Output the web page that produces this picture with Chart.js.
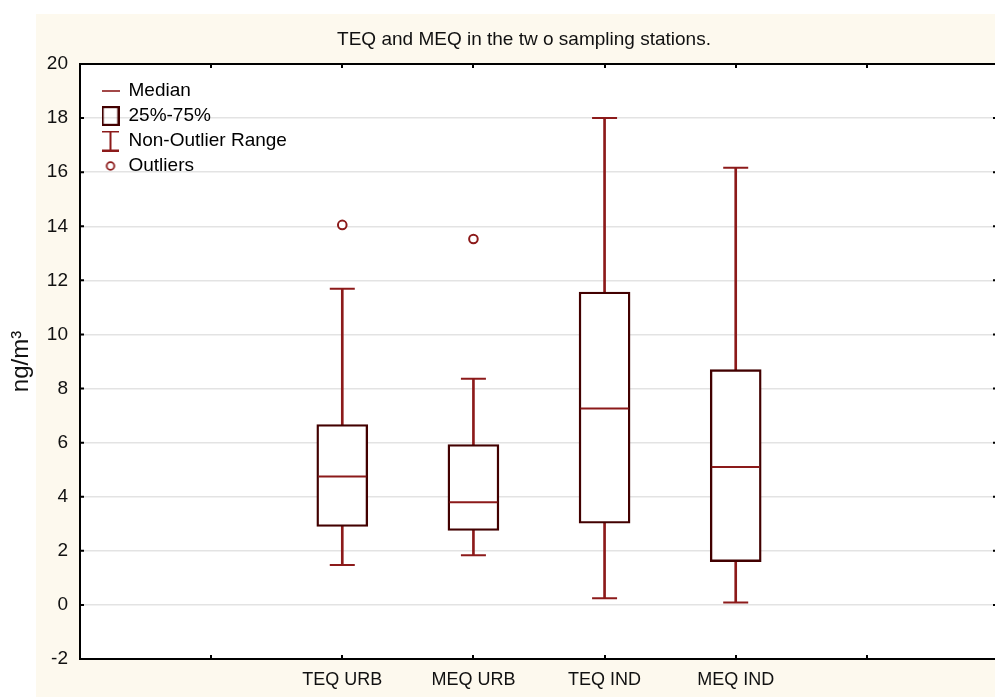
<!DOCTYPE html>
<html>
<head>
<meta charset="utf-8">
<script src="https://cdn.jsdelivr.net/npm/chart.js@4.4.1/dist/chart.umd.min.js"></script>
<style>
html,body{margin:0;padding:0;background:#fff;overflow:hidden;width:995px;height:697px}
#wrap{width:998px;height:697px;overflow:hidden}
canvas{display:block}
</style>
</head>
<body>
<div id="wrap"><canvas id="c" width="998" height="697"></canvas></div>
<script>
// ---- data ----
const categories = ['TEQ URB', 'MEQ URB', 'TEQ IND', 'MEQ IND'];
const whiskerLow  = [1.48, 1.84, 0.25, 0.09];
const quartile1   = [2.90, 2.75, 3.02, 1.60];
const medians     = [4.75, 3.80, 7.26, 5.10];
const quartile3   = [6.67, 5.93, 11.57, 8.70];
const whiskerHigh = [11.69, 8.36, 18.00, 16.16];
const outliers    = [14.05, 13.53, null, null];
const yTicks = [-2, 0, 2, 4, 6, 8, 10, 12, 14, 16, 18, 20];
const legendLabels = ['Median', '25%-75%', 'Non-Outlier Range', 'Outliers'];
const titleText = 'TEQ and MEQ in the tw o sampling stations.';
const yTitleText = 'ng/m³';

// two empty slots on each side of the categories
const axisLabels = ['', '', ...categories, '', ''];
const padData = arr => [null, null, ...arr, null, null];

const RED = '#8c1a1a';
const DARK = '#420000';
const CREAM = '#fdf9ee';
Chart.defaults.font.family = "'Liberation Sans', Arial, sans-serif";

// legend symbols
function sym(w, h, draw) {
  const c = document.createElement('canvas');
  c.width = w; c.height = h;
  const g = c.getContext('2d');
  draw(g);
  return c;
}
const symbols = [
  sym(18, 4, g => { g.strokeStyle = RED; g.lineWidth = 1.6; g.beginPath(); g.moveTo(0, 2); g.lineTo(18, 2); g.stroke(); }),
  sym(18, 20, g => { g.strokeStyle = DARK; g.lineWidth = 2.2; g.strokeRect(1.1, 1.1, 15.8, 17.8); }),
  sym(17, 21, g => { g.strokeStyle = RED; g.lineWidth = 2; g.beginPath();
    g.moveTo(0, 1); g.lineTo(17, 1); g.moveTo(8.5, 1); g.lineTo(8.5, 20); g.moveTo(0, 20); g.lineTo(17, 20); g.stroke(); }),
  sym(12, 12, g => { g.strokeStyle = RED; g.lineWidth = 1.8; g.beginPath(); g.arc(6, 6, 3.8, 0, Math.PI * 2); g.stroke(); })
];

const decor = {
  id: 'decor',
  afterLayout(chart) {
    const ca = chart.chartArea;
    const t = chart.titleBlock;
    t.left = 50; t.right = chart.width;
    const lg = chart.legend;
    const w = lg.width, h = lg.height;
    lg.left = ca.left + 16; lg.top = ca.top + 11.5;
    lg.right = lg.left + w; lg.bottom = lg.top + h;
  },
  beforeDraw(chart) {
    const ctx = chart.ctx, ca = chart.chartArea;
    ctx.save();
    ctx.fillStyle = '#ffffff';
    ctx.fillRect(0, 0, chart.width, chart.height);
    ctx.fillStyle = CREAM;
    ctx.fillRect(36, 14, chart.width - 36, chart.height - 14);
    ctx.fillStyle = '#ffffff';
    ctx.fillRect(ca.left, ca.top, ca.right - ca.left, ca.bottom - ca.top);
    ctx.restore();
  },
  afterDraw(chart) {
    const ctx = chart.ctx, ca = chart.chartArea;
    const xs = chart.scales.x, ys = chart.scales.y;
    ctx.save();
    ctx.strokeStyle = '#000';
    ctx.lineWidth = 2;
    ctx.beginPath();
    ctx.moveTo(ca.left - 1, ca.top); ctx.lineTo(ca.right, ca.top);
    ctx.moveTo(ca.right - 1, ca.top); ctx.lineTo(ca.right - 1, ca.bottom);
    yTicks.forEach(v => {
      const py = ys.getPixelForValue(v);
      ctx.moveTo(ca.left, py); ctx.lineTo(ca.left + 4, py);
      ctx.moveTo(ca.right - 1, py); ctx.lineTo(ca.right - 5, py);
    });
    for (let i = 1; i < axisLabels.length - 1; i++) {
      const px = Math.round(xs.getPixelForValue(i));
      ctx.moveTo(px, ca.bottom); ctx.lineTo(px, ca.bottom - 4);
      ctx.moveTo(px, ca.top); ctx.lineTo(px, ca.top + 4);
    }
    ctx.stroke();
    ctx.restore();
  }
};

new Chart(document.getElementById('c'), {
  type: 'bar',
  data: {
    labels: axisLabels,
    datasets: [
      {
        type: 'bar', label: 'Non-Outlier Range',
        data: padData(whiskerLow.map((v, i) => [v, whiskerHigh[i]])),
        backgroundColor: RED, borderWidth: 0, barThickness: 2, grouped: false, order: 3
      },
      {
        type: 'bar', label: '25%-75%',
        data: padData(quartile1.map((v, i) => [v, quartile3[i]])),
        backgroundColor: '#ffffff', borderColor: DARK, borderWidth: 2.4, borderSkipped: false,
        barThickness: 51, grouped: false, order: 2
      },
      {
        type: 'line', label: 'Median', data: padData(medians), showLine: false,
        pointStyle: 'line', pointRadius: 24, pointHoverRadius: 24,
        pointBorderColor: RED, pointBorderWidth: 2, borderColor: RED, order: 1
      },
      {
        type: 'line', label: 'whisker low cap', data: padData(whiskerLow), showLine: false,
        pointStyle: 'line', pointRadius: 12.5, pointHoverRadius: 12.5,
        pointBorderColor: RED, pointBorderWidth: 2, borderColor: RED, order: 1
      },
      {
        type: 'line', label: 'whisker high cap', data: padData(whiskerHigh), showLine: false,
        pointStyle: 'line', pointRadius: 12.5, pointHoverRadius: 12.5,
        pointBorderColor: RED, pointBorderWidth: 2, borderColor: RED, order: 1
      },
      {
        type: 'line', label: 'Outliers', data: padData(outliers), showLine: false,
        pointStyle: 'circle', pointRadius: 4.3, pointHoverRadius: 4.3,
        pointBorderColor: RED, pointBackgroundColor: '#ffffff', pointBorderWidth: 2,
        borderColor: RED, order: 0
      }
    ]
  },
  options: {
    responsive: false,
    devicePixelRatio: 1,
    animation: false,
    events: [],
    layout: { padding: 0, autoPadding: false },
    plugins: {
      tooltip: { enabled: false },
      title: {
        display: true, text: titleText, color: '#111',
        font: { size: 19, weight: 'normal' },
        padding: { top: 28, bottom: 13.2 }
      },
      legend: {
        display: true, position: 'chartArea', align: 'start',
        labels: {
          usePointStyle: true, boxWidth: 17, boxHeight: 17, padding: 6,
          color: '#111', font: { size: 19 },
          generateLabels: () => legendLabels.map((t, i) => ({
            text: t, pointStyle: symbols[i], fillStyle: 'rgba(0,0,0,0)',
            strokeStyle: 'rgba(0,0,0,0)', lineWidth: 0, hidden: false, datasetIndex: i
          }))
        }
      }
    },
    scales: {
      x: {
        type: 'category', labels: axisLabels, offset: false,
        grid: { display: false, drawTicks: false },
        border: { display: true, color: '#000', width: 2 },
        ticks: { autoSkip: false, maxRotation: 0, padding: 0, color: '#111', font: { size: 18, lineHeight: '41.6px' } },
        afterFit(s) { s.height = 38; }
      },
      y: {
        min: -2, max: 20,
        afterBuildTicks(s) { s.ticks = yTicks.map(v => ({ value: v })); },
        grid: { color: '#e3e3e3', lineWidth: 1.5, drawTicks: false },
        border: { display: true, color: '#000', width: 2 },
        ticks: { padding: 12, color: '#111', font: { size: 19 } },
        title: { display: true, text: yTitleText, color: '#111', font: { size: 24 }, padding: { top: 7, bottom: 0 } },
        afterFit(s) { s.width = 80; }
      }
    }
  },
  plugins: [decor]
});
</script>
</body>
</html>
